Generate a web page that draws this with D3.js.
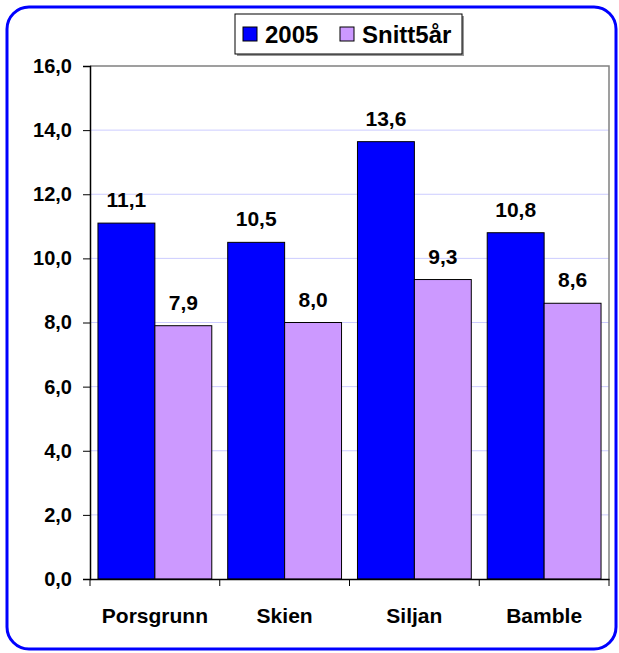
<!DOCTYPE html>
<meta charset="utf-8">
<script src="https://d3js.org/d3.v7.min.js"></script>
<style>
  body { margin: 0; background: #fff; }
  text { font-family: "Liberation Sans", Arial, sans-serif; font-weight: bold; }
</style>
<svg id="chart" width="619" height="653"></svg>
<script>
// data
var categories = ["Porsgrunn", "Skien", "Siljan", "Bamble"];
var seriesNames = ["2005", "Snitt5år"];
var values2005 = [11.1, 10.5, 13.64, 10.8];
var valuesSnitt = [7.9, 8.0, 9.34, 8.6];
var yTicks = [0, 2, 4, 6, 8, 10, 12, 14, 16];
var colors = ["#0000ff", "#cc99ff"];

var svg = d3.select("#chart");

// outer rounded frame
svg.append("rect")
    .attr("x", 7).attr("y", 7)
    .attr("width", 609).attr("height", 642)
    .attr("rx", 22).attr("ry", 22)
    .attr("fill", "#fff")
    .attr("stroke", "#0000ff")
    .attr("stroke-width", 3);

var plotLeft = 90, plotRight = 609, plotTop = 66, plotBottom = 579;

var x = d3.scaleBand().domain(categories).range([plotLeft, plotRight]);
var x1 = d3.scaleBand().domain(seriesNames).range([0, x.bandwidth()]).paddingOuter(0.14);
var y = d3.scaleLinear().domain([0, 16]).range([plotBottom, plotTop]);

function fmt(d) { return d.toFixed(1).replace(".", ","); }

// gridlines
svg.append("g")
  .selectAll("line")
  .data(yTicks.filter(function(d){ return d > 0 && d < 16; }))
  .enter().append("line")
    .attr("x1", plotLeft).attr("x2", plotRight)
    .attr("y1", function(d){ return y(d); })
    .attr("y2", function(d){ return y(d); })
    .attr("stroke", "#ccccff")
    .attr("stroke-width", 1);

// plot border (top and right)
svg.append("path")
    .attr("d", "M" + plotLeft + "," + plotTop + "H" + plotRight + "V" + plotBottom)
    .attr("fill", "none")
    .attr("stroke", "#808080")
    .attr("stroke-width", 1.5);

// bars
var rows = categories.map(function(c, i){
  return [{cat: c, s: seriesNames[0], v: values2005[i]}, {cat: c, s: seriesNames[1], v: valuesSnitt[i]}];
});

var groups = svg.append("g")
  .selectAll("g")
  .data(rows)
  .enter().append("g")
    .attr("transform", function(d){ return "translate(" + x(d[0].cat) + ",0)"; });

groups.selectAll("rect")
  .data(function(d){ return d; })
  .enter().append("rect")
    .attr("x", function(d){ return x1(d.s); })
    .attr("y", function(d){ return y(d.v); })
    .attr("width", x1.bandwidth())
    .attr("height", function(d){ return y(0) - y(d.v); })
    .attr("fill", function(d, i){ return colors[i]; })
    .attr("stroke", "#000")
    .attr("stroke-width", 1);

groups.selectAll("text")
  .data(function(d){ return d; })
  .enter().append("text")
    .attr("x", function(d){ return x1(d.s) + x1.bandwidth() / 2; })
    .attr("y", function(d){ return y(d.v) - 16; })
    .attr("text-anchor", "middle")
    .style("font-size", "21px")
    .text(function(d){ return fmt(d.v); });

// y axis
var yAxis = svg.append("g")
    .attr("transform", "translate(" + plotLeft + ",0)")
    .call(d3.axisLeft(y).tickValues(yTicks).tickSize(7).tickPadding(11).tickFormat(fmt));
yAxis.select(".domain").attr("stroke", "#000").attr("stroke-width", 1.5);
yAxis.selectAll(".tick line").attr("stroke", "#000");
yAxis.selectAll("text")
    .style("font-size", "20px")
    .style("font-family", "'Liberation Sans', Arial, sans-serif")
    .style("font-weight", "bold")
    .attr("fill", "#000");

// x axis
var xAxis = svg.append("g")
    .attr("transform", "translate(0," + plotBottom + ")")
    .call(d3.axisBottom(x).tickSize(0).tickPadding(29));
xAxis.select(".domain").attr("stroke", "#000").attr("stroke-width", 1.5);
xAxis.selectAll("text")
    .style("font-size", "21px")
    .style("font-family", "'Liberation Sans', Arial, sans-serif")
    .style("font-weight", "bold")
    .attr("fill", "#000");
// category separators
xAxis.selectAll(".sep")
  .data(categories.concat(["end"]))
  .enter().append("line")
    .attr("x1", function(d, i){ return plotLeft + i * x.bandwidth(); })
    .attr("x2", function(d, i){ return plotLeft + i * x.bandwidth(); })
    .attr("y1", 0).attr("y2", 7)
    .attr("stroke", "#000");

// legend
var legend = svg.append("g").attr("transform", "translate(235,14)");
legend.append("rect")
    .attr("x", 2).attr("y", 2).attr("width", 227).attr("height", 40)
    .attr("fill", "#999");
legend.append("rect")
    .attr("width", 227).attr("height", 40)
    .attr("fill", "#fff")
    .attr("stroke", "#000")
    .attr("stroke-width", 1);
var legX = [8, 105];
seriesNames.forEach(function(s, i){
  legend.append("rect")
      .attr("x", legX[i]).attr("y", 13)
      .attr("width", 14).attr("height", 14)
      .attr("fill", colors[i])
      .attr("stroke", "#000");
  legend.append("text")
      .attr("x", legX[i] + 22).attr("y", 29)
      .style("font-size", "24px")
      .text(s);
});
</script>
